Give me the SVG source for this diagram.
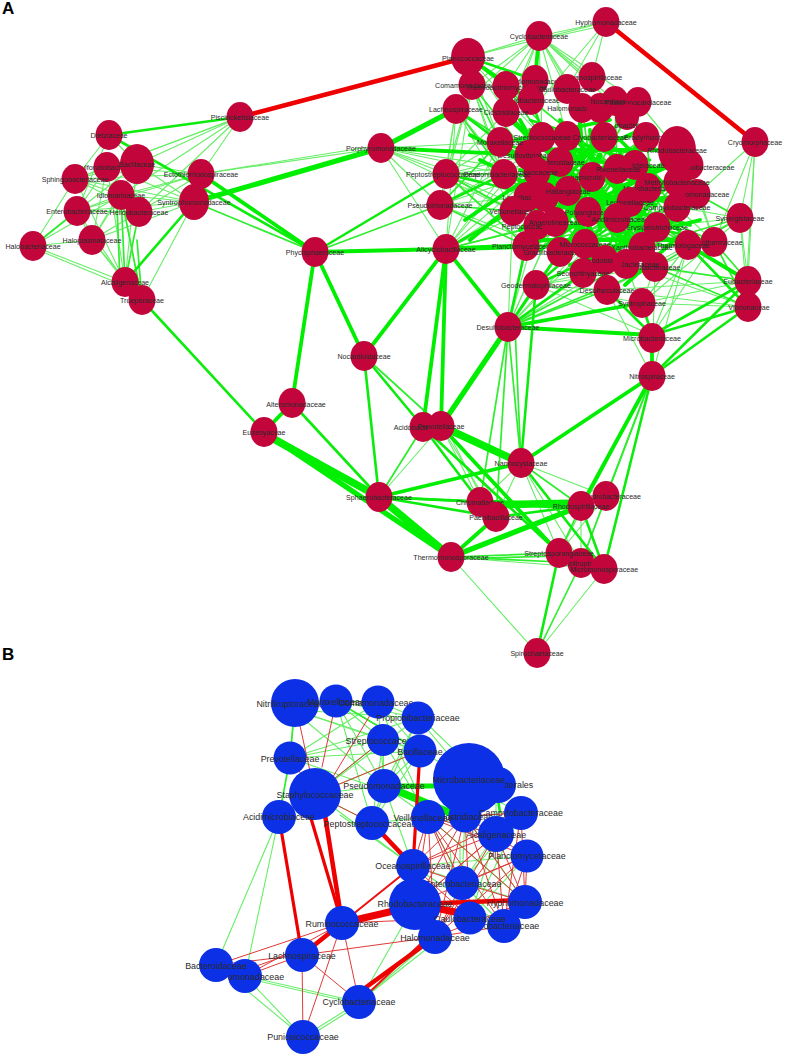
<svg xmlns="http://www.w3.org/2000/svg" width="787" height="1060" viewBox="0 0 787 1060">
<style>
text{font-family:"Liberation Sans",Arial,sans-serif;fill:#2a2a2a;text-anchor:middle}
.a text{font-size:7.1px}
.b text{font-size:8.9px}
.a ellipse{fill:#c2063c}
.b circle{fill:#0b30e6}
.t{font-size:17px;font-weight:bold;fill:#000;text-anchor:start}
#connectors path{fill:none;stroke-linecap:round}
.c1 path{stroke:#66ee66;stroke-width:1.1}
.c2 path{stroke:#2eee2e;stroke-width:1.7}
.c3 path{stroke:#0cec0c;stroke-width:2.6}
.c4 path{stroke:#00ee00;stroke-width:3.8}
.c5 path{stroke:#00ee00;stroke-width:5.2}
.c6 path{stroke:#00ee00;stroke-width:7.5}
.r1 path{stroke:#e03a3a;stroke-width:1}
.r2 path{stroke:#ee1010;stroke-width:2}
.r3 path{stroke:#ee0000;stroke-width:3.2}
.r4 path{stroke:#ee0000;stroke-width:4.6}
.r5 path{stroke:#ee0000;stroke-width:7}
</style>
<rect width="787" height="1060" fill="#fff"/>
<text class="t" x="2" y="14">A</text>
<text class="t" x="2" y="660">B</text>
<g id="connectors">
<g class="c1">
<path d="M606 22L539 36"/><path d="M606 25L539 40"/><path d="M606 22L468 57"/><path d="M606 22L567 89"/><path d="M606 22L592 77"/><path d="M606 22L540 100"/>
<path d="M539 36L468 57"/><path d="M539 36L472 85"/><path d="M539 36L506 86"/><path d="M539 36L531 100"/><path d="M539 36L567 89"/><path d="M539 36L592 77"/><path d="M539 36L615 101"/><path d="M539 36L638 102"/><path d="M539 36L582 108"/><path d="M539 36L604 137"/><path d="M539 36L500 142"/><path d="M539 36L542 137"/><path d="M539 36L567 136"/><path d="M539 36L627 117"/><path d="M539 36L456 109"/><path d="M539 36L506 112"/>
<path d="M468 57L506 112"/><path d="M468 57L531 100"/><path d="M468 57L500 142"/><path d="M468 57L567 89"/><path d="M468 57L542 137"/>
<path d="M755 142L740 218"/><path d="M755 142L748 281"/><path d="M755 142L697 194"/><path d="M755 142L745 307"/><path d="M755 142L714 242"/>
<path d="M740 218L688 245"/><path d="M740 218L677 207"/><path d="M740 218L714 242"/><path d="M740 218L748 281"/><path d="M740 218L748 307"/><path d="M740 218L657 227"/>
<path d="M748 281L642 303"/><path d="M748 307L642 303"/><path d="M748 307L607 290"/><path d="M748 281L607 290"/><path d="M748 281L626 264"/><path d="M748 307L626 264"/>
<path d="M240 117L137 164"/><path d="M240 117L107 167"/><path d="M240 117L75 179"/><path d="M240 117L121 195"/><path d="M240 117L139 212"/><path d="M240 117L201 174"/>
<path d="M201 174L381 148"/><path d="M201 174L381 145"/><path d="M109 135L75 179"/><path d="M109 135L77 211"/><path d="M109 135L137 164"/>
<path d="M75 179L137 164"/><path d="M75 179L121 195"/><path d="M75 179L139 212"/><path d="M75 179L194 202"/><path d="M75 179L201 174"/><path d="M75 179L33 246"/><path d="M75 179L125 282"/><path d="M75 179L107 167"/>
<path d="M77 211L137 164"/><path d="M77 211L107 167"/><path d="M77 211L121 195"/><path d="M77 211L139 212"/><path d="M77 211L194 202"/><path d="M77 211L201 174"/><path d="M77 211L33 246"/><path d="M77 211L125 282"/><path d="M77 211L92 240"/>
<path d="M92 240L137 164"/><path d="M92 240L139 212"/><path d="M92 240L121 195"/><path d="M92 240L194 202"/><path d="M92 240L33 246"/><path d="M92 240L125 282"/><path d="M92 240L142 300"/><path d="M92 240L107 167"/>
<path d="M107 167L194 202"/><path d="M107 167L201 174"/><path d="M107 167L139 212"/><path d="M107 167L125 282"/><path d="M137 164L194 202"/><path d="M137 164L201 174"/><path d="M137 164L125 282"/><path d="M121 195L194 202"/><path d="M121 195L201 174"/><path d="M139 212L194 202"/><path d="M139 212L201 174"/><path d="M121 195L142 300"/>
<path d="M33 246L125 282"/><path d="M33 248L125 286"/><path d="M33 246L121 195"/><path d="M142 300L194 202"/>
<path d="M423 427L379 497"/><path d="M441 426L379 497"/><path d="M441 426L480 502"/><path d="M441 426L496 517"/><path d="M445 426L484 502"/>
<path d="M521 463L480 502"/><path d="M521 463L496 517"/><path d="M521 463L559 553"/><path d="M521 463L581 563"/><path d="M521 463L606 496"/>
<path d="M451 557L604 569"/><path d="M451 557L537 653"/><path d="M604 569L537 653"/><path d="M581 506L581 563"/><path d="M581 506L559 553"/><path d="M606 496L559 553"/><path d="M606 496L581 563"/><path d="M652 376L606 496"/><path d="M652 376L559 553"/><path d="M652 376L581 506"/>
<path d="M446 174L500 142"/><path d="M446 174L528 155"/><path d="M446 174L513 211"/><path d="M446 174L537 225"/><path d="M446 174L555 222"/><path d="M446 174L526 246"/><path d="M446 174L506 112"/><path d="M446 174L560 162"/>
<path d="M440 205L504 174"/><path d="M440 205L527 197"/><path d="M440 205L513 211"/><path d="M440 205L537 172"/><path d="M440 205L526 246"/><path d="M440 205L560 252"/><path d="M440 205L500 142"/><path d="M440 205L528 155"/>
<path d="M456 109L500 142"/><path d="M456 109L504 174"/><path d="M456 109L527 197"/><path d="M456 109L513 211"/><path d="M456 109L446 249"/><path d="M456 109L440 205"/><path d="M456 109L537 172"/><path d="M456 109L446 174"/><path d="M472 85L446 249"/><path d="M472 85L504 174"/><path d="M472 85L440 205"/><path d="M472 85L513 211"/><path d="M472 85L446 174"/>
<path d="M446 249L504 174"/><path d="M446 249L527 197"/><path d="M446 249L537 172"/><path d="M446 249L500 142"/><path d="M446 249L513 211"/><path d="M446 249L568 191"/><path d="M446 249L528 155"/><path d="M446 249L588 212"/><path d="M446 249L555 222"/>
<path d="M381 148L504 174"/><path d="M381 148L513 211"/><path d="M381 148L500 142"/><path d="M381 148L446 174"/><path d="M381 148L440 205"/><path d="M381 148L446 249"/><path d="M381 148L527 197"/><path d="M381 148L537 172"/>
<path d="M508 327L513 211"/><path d="M508 327L537 225"/><path d="M508 327L555 222"/><path d="M508 327L588 212"/><path d="M508 327L568 191"/><path d="M508 327L617 218"/><path d="M508 327L605 260"/><path d="M508 327L585 244"/><path d="M508 327L642 247"/>
<path d="M536 285L642 303"/><path d="M536 285L607 290"/><path d="M536 285L652 335"/><path d="M536 285L655 267"/><path d="M536 285L626 264"/><path d="M536 285L585 244"/><path d="M536 285L560 252"/>
<path d="M652 376L655 267"/><path d="M652 376L688 245"/><path d="M652 376L607 290"/><path d="M652 335L688 245"/><path d="M652 335L626 264"/><path d="M652 335L607 290"/><path d="M642 303L688 245"/><path d="M642 303L655 267"/>
<path d="M714 242L677 207"/><path d="M714 242L697 194"/><path d="M714 242L655 267"/><path d="M714 242L652 335"/><path d="M714 242L642 303"/><path d="M688 245L607 290"/><path d="M688 245L642 303"/><path d="M697 194L740 218"/>
<path d="M646 137L677 150"/><path d="M638 102L677 150"/><path d="M638 102L690 165"/><path d="M627 117L690 165"/><path d="M646 137L697 194"/><path d="M690 165L714 242"/>
</g>
<g class="c2">
<path d="M33 246L77 211"/><path d="M125 282L121 195"/><path d="M120 282L117 205"/><path d="M125 282L139 212"/><path d="M142 300L121 195"/><path d="M142 300L137 240"/>
<path d="M194 202L315 252"/><path d="M521 463L515 327"/><path d="M521 463L508 327"/><path d="M508 327L480 502"/><path d="M508 327L496 517"/>
<path d="M379 497L423 427"/><path d="M521 463L581 506"/><path d="M581 506L559 553"/><path d="M451 557L559 553"/><path d="M451 557L581 563"/><path d="M451 559L559 556"/><path d="M606 496L652 376"/><path d="M581 563L652 376"/><path d="M537 653L581 563"/>
<path d="M315 252L440 205"/><path d="M364 356L441 426"/><path d="M500 142L560 162"/><path d="M500 142L604 137"/><path d="M542 137L646 137"/><path d="M567 136L617 169"/><path d="M531 100L617 169"/><path d="M506 112L568 191"/><path d="M506 112L588 212"/><path d="M506 86L560 162"/><path d="M506 86L592 177"/>
<path d="M582 108L592 177"/><path d="M615 101L617 169"/><path d="M627 117L592 177"/><path d="M638 102L635 165"/><path d="M604 137L677 207"/><path d="M646 137L657 227"/><path d="M646 137L568 191"/><path d="M604 137L555 222"/>
<path d="M504 174L617 218"/><path d="M504 174L642 247"/><path d="M504 174L585 244"/><path d="M537 172L657 227"/><path d="M513 211L677 182"/><path d="M513 211L642 247"/><path d="M513 211L605 260"/><path d="M526 246L617 169"/><path d="M526 246L648 188"/><path d="M526 246L677 207"/><path d="M526 246L642 247"/>
<path d="M560 252L677 182"/><path d="M560 252L657 227"/><path d="M560 252L630 202"/><path d="M585 244L677 207"/><path d="M585 244L697 194"/><path d="M605 260L677 182"/><path d="M605 260L697 194"/><path d="M626 264L648 188"/><path d="M655 267L617 169"/><path d="M642 247L592 177"/><path d="M642 247L568 191"/>
<path d="M688 245L630 202"/><path d="M688 245L648 188"/><path d="M688 245L617 218"/><path d="M740 218L697 194"/><path d="M740 218L655 267"/><path d="M740 218L642 247"/><path d="M714 242L630 202"/><path d="M748 281L657 227"/><path d="M748 281L714 242"/><path d="M748 307L714 242"/><path d="M748 281L655 267"/><path d="M748 307L655 267"/><path d="M748 307L688 245"/>
<path d="M508 327L536 285"/><path d="M508 327L526 246"/><path d="M508 327L560 252"/><path d="M508 327L583 273"/><path d="M508 327L607 290"/><path d="M508 327L626 264"/><path d="M508 327L655 267"/>
<path d="M446 174L504 174"/><path d="M446 174L513 211"/><path d="M440 205L513 211"/><path d="M440 205L526 246"/><path d="M446 249L513 211"/><path d="M456 109L504 174"/><path d="M456 109L528 155"/><path d="M440 205L500 142"/><path d="M472 85L500 142"/><path d="M472 85L528 155"/><path d="M446 174L526 246"/><path d="M446 249L555 222"/>
</g>
<g class="c3">
<path d="M109 135L315 252"/><path d="M315 252L446 174"/><path d="M364 356L379 497"/><path d="M364 356L423 427"/><path d="M292 403L379 497"/><path d="M264 432L142 300"/><path d="M423 427L480 502"/><path d="M423 427L559 553"/><path d="M379 497L480 502"/><path d="M379 497L581 506"/><path d="M379 497L496 517"/>
<path d="M521 463L604 569"/><path d="M581 506L604 569"/><path d="M581 506L652 376"/><path d="M604 569L652 376"/><path d="M537 653L559 553"/><path d="M496 517L581 506"/><path d="M536 285L521 463"/>
<path d="M125 282L194 202"/><path d="M109 135L240 117"/><path d="M456 109L500 142"/><path d="M468 57L506 86"/>
<path d="M500 142L605 260"/><path d="M528 155L642 247"/><path d="M542 137L655 267"/><path d="M567 136L626 264"/><path d="M604 137L526 246"/><path d="M627 117L513 211"/><path d="M646 137L536 285"/><path d="M677 150L560 252"/><path d="M677 182L585 244"/><path d="M500 142L677 207"/><path d="M504 174L677 182"/><path d="M513 211L697 194"/><path d="M526 246L688 245"/><path d="M527 197L688 245"/><path d="M537 172L655 267"/><path d="M560 162L607 290"/><path d="M592 177L583 273"/><path d="M617 169L560 252"/><path d="M635 165L605 260"/><path d="M648 188L536 285"/><path d="M657 227L536 285"/><path d="M677 207L605 260"/><path d="M568 191L642 247"/><path d="M588 212L714 242"/><path d="M555 222L677 182"/><path d="M530 120L650 160"/><path d="M506 112L642 247"/><path d="M531 100L585 244"/><path d="M582 108L568 191"/><path d="M604 137L642 247"/><path d="M567 136L655 267"/>
<path d="M508 327L560 252"/><path d="M508 327L526 246"/><path d="M748 281L652 335"/><path d="M748 307L652 335"/><path d="M652 376L748 281"/><path d="M652 376L748 307"/><path d="M642 303L652 335"/><path d="M607 290L652 335"/><path d="M536 285L508 327"/><path d="M748 307L688 245"/><path d="M508 327L583 273"/><path d="M480 502L581 509"/>
<path d="M440 205L504 174"/><path d="M446 249L513 211"/><path d="M446 174L513 190"/><path d="M468 57L535 80"/>
</g>
<g class="c4">
<path d="M381 148L528 155"/><path d="M315 252L292 403"/><path d="M315 252L364 356"/><path d="M364 356L446 249"/><path d="M292 403L264 432"/><path d="M423 427L446 249"/><path d="M441 426L446 249"/><path d="M521 463L652 376"/><path d="M451 557L496 517"/><path d="M581 506L652 376"/><path d="M559 553L441 426"/>
<path d="M379 497L521 463"/><path d="M201 174L315 252"/><path d="M315 252L446 249"/><path d="M539 36L535 80"/><path d="M468 57L530 100"/><path d="M508 327L652 335"/><path d="M508 327L446 249"/><path d="M652 335L652 376"/><path d="M508 327L642 303"/><path d="M748 281L688 245"/>
<path d="M560 162L605 260"/><path d="M545 130L630 200"/><path d="M555 190L640 150"/><path d="M520 170L610 200"/><path d="M590 130L600 230"/><path d="M620 150L620 240"/><path d="M560 120L650 230"/><path d="M530 230L640 180"/><path d="M570 180L680 230"/><path d="M540 175L660 240"/><path d="M600 200L690 180"/><path d="M560 230L650 200"/><path d="M640 235L700 220"/><path d="M515 140L610 120"/><path d="M530 130L620 170"/><path d="M585 145L660 170"/><path d="M600 180L655 130"/><path d="M655 215L690 225"/><path d="M510 120L580 180"/>
<path d="M510 150L640 210"/><path d="M510 190L640 130"/><path d="M520 230L600 140"/><path d="M540 250L650 170"/><path d="M560 130L560 250"/><path d="M580 120L590 260"/><path d="M640 140L640 260"/><path d="M660 190L600 270"/><path d="M520 200L680 200"/><path d="M540 150L660 150"/><path d="M530 240L690 240"/><path d="M570 265L670 225"/><path d="M520 120L600 260"/><path d="M600 120L680 200"/><path d="M610 270L700 200"/><path d="M625 285L680 235"/><path d="M480 160L540 190"/><path d="M470 135L520 160"/><path d="M465 220L540 170"/><path d="M470 240L530 190"/>
</g>
<g class="c5">
<path d="M194 202L381 148"/><path d="M264 432L379 497"/><path d="M264 432L451 557"/><path d="M441 426L508 327"/><path d="M451 557L581 506"/><path d="M480 502L581 506"/><path d="M381 148L456 109"/><path d="M446 249L526 246"/><path d="M530 165L620 235"/><path d="M600 155L560 235"/><path d="M615 190L670 165"/><path d="M555 150L655 205"/>
</g>
<g class="c6">
<path d="M379 497L451 557"/><path d="M441 426L521 463"/><path d="M268 436L379 497"/><path d="M480 505L581 503"/>
</g>
<g class="r4">
<path d="M240 117L468 57"/>
<path d="M606 22L755 142"/>
</g>
<g class="c1">
<path d="M295 703L336 701"/><path d="M336 701L378 702"/><path d="M295 710L418 718"/><path d="M295 710L383 740"/><path d="M295 710L420 751"/><path d="M295 712L384 786"/><path d="M336 701L418 718"/><path d="M336 701L383 740"/><path d="M336 701L420 751"/><path d="M336 701L384 786"/><path d="M336 701L372 823"/><path d="M378 702L418 718"/><path d="M378 702L420 751"/><path d="M378 702L290 758"/><path d="M378 702L384 786"/><path d="M378 702L428 817"/><path d="M418 718L290 758"/><path d="M418 718L315 794"/><path d="M418 718L384 786"/><path d="M418 718L469 779"/><path d="M418 718L372 823"/><path d="M425 722L475 770"/><path d="M383 740L290 758"/><path d="M383 740L420 751"/><path d="M383 740L384 786"/><path d="M383 740L428 817"/><path d="M383 740L372 823"/><path d="M420 751L290 758"/><path d="M420 751L384 786"/><path d="M420 751L372 823"/><path d="M420 751L469 779"/><path d="M290 758L383 790"/><path d="M290 758L295 703"/><path d="M315 794L384 786"/><path d="M315 794L372 823"/><path d="M315 794L413 866"/><path d="M315 794L420 751"/><path d="M384 786L372 823"/><path d="M384 786L428 817"/><path d="M384 786L413 866"/><path d="M315 794L383 740"/><path d="M372 823L428 817"/><path d="M372 823L413 866"/><path d="M340 815L413 866"/><path d="M279 817L216 965"/><path d="M279 817L245 976"/><path d="M245 976L359 1002"/><path d="M245 978L359 1004"/><path d="M245 976L303 1037"/><path d="M216 965L303 1037"/><path d="M359 1002L303 1037"/><path d="M359 1005L303 1040"/><path d="M359 1002L435 937"/><path d="M359 1002L438 940"/><path d="M359 1002L415 904"/><path d="M428 817L462 883"/><path d="M428 817L496 834"/><path d="M465 816L462 883"/><path d="M465 816L525 902"/><path d="M496 834L462 883"/><path d="M496 834L470 918"/><path d="M521 813L462 883"/><path d="M521 813L470 918"/><path d="M527 856L413 866"/><path d="M527 856L470 918"/><path d="M462 883L504 926"/><path d="M450 850L455 900"/><path d="M460 840L460 890"/><path d="M413 866L504 926"/><path d="M413 866L525 902"/><path d="M428 817L525 902"/><path d="M496 800L496 834"/><path d="M521 813L496 800"/>
</g>
<g class="c2">
<path d="M290 758L279 817"/><path d="M295 703L290 758"/><path d="M336 701L420 751"/>
</g>
<g class="c5"><path d="M384 786L469 786"/></g>
<g class="c6"><path d="M400 792L448 812"/></g>
<g class="c3"><path d="M498 800L500 812"/></g>
<g class="r1">
<path d="M295 703L315 794"/><path d="M336 701L322 767"/><path d="M378 702L325 790"/><path d="M383 740L315 794"/><path d="M420 751L315 794"/><path d="M290 758L315 794"/><path d="M315 794L372 823"/>
<path d="M302 955L216 965"/><path d="M342 923L216 965"/><path d="M342 923L245 976"/><path d="M302 955L245 976"/><path d="M302 950L245 970"/><path d="M302 955L435 937"/><path d="M342 923L415 920"/><path d="M302 955L359 1002"/><path d="M342 923L359 1002"/><path d="M302 955L303 1037"/><path d="M342 923L303 1037"/>
<path d="M428 817L462 883"/><path d="M428 817L527 856"/><path d="M428 817L525 902"/><path d="M428 817L504 926"/><path d="M428 817L470 918"/><path d="M428 817L435 937"/><path d="M465 816L527 856"/><path d="M465 816L504 926"/><path d="M465 816L470 918"/><path d="M465 816L435 937"/><path d="M465 816L413 866"/><path d="M465 816L415 904"/><path d="M496 834L413 866"/><path d="M496 834L525 902"/><path d="M496 834L504 926"/><path d="M496 834L415 904"/><path d="M496 834L435 937"/><path d="M521 813L413 866"/><path d="M521 813L415 904"/><path d="M521 813L525 902"/><path d="M521 813L504 926"/><path d="M521 813L435 937"/><path d="M527 856L415 904"/><path d="M527 856L435 937"/><path d="M527 856L504 926"/><path d="M527 856L462 883"/><path d="M527 856L525 902"/><path d="M462 883L525 902"/><path d="M462 883L470 918"/><path d="M462 883L435 937"/><path d="M413 866L462 883"/><path d="M413 866L470 918"/><path d="M525 902L435 937"/><path d="M504 926L435 937"/><path d="M428 817L415 904"/><path d="M428 817L496 834"/><path d="M428 817L413 866"/><path d="M465 816L521 813"/><path d="M465 816L525 902"/>
</g>
<g class="r3">
<path d="M279 817L302 955"/><path d="M310 815L342 923"/><path d="M420 751L413 866"/>
</g>
<g class="r2">
<path d="M342 923L413 866"/><path d="M359 1002L430 935"/>
</g>
<g class="r4">
<path d="M325 815L342 923"/><path d="M372 823L413 866"/><path d="M302 955L342 923"/><path d="M354 996L435 937"/><path d="M415 904L525 900"/>
</g>
<g class="r5"><path d="M342 923L415 906"/><path d="M415 904L470 915"/></g>
</g>
<g id="nodes">
<g class="a">
<g id="a-comamonadaceae"><ellipse cx="472" cy="85" rx="13.5" ry="15"/><text x="465" y="88">Comamonadaceae</text></g>
<g id="a-rhodomonadaceae"><ellipse cx="535" cy="80" rx="13.5" ry="15"/><text x="535" y="84">Rhodomonadaceae</text></g>
<g id="a-thermoactinomycetaceae"><ellipse cx="506" cy="86" rx="13.5" ry="15"/><text x="506" y="90">Thermoactinomycetaceae</text></g>
<g id="a-oceanospirillaceae"><ellipse cx="592" cy="77" rx="13.5" ry="15"/><text x="592" y="80">Oceanospirillaceae</text></g>
<g id="a-flavobacteriaceae"><ellipse cx="531" cy="100" rx="13.5" ry="15"/><text x="531" y="103">Flavobacteriaceae</text></g>
<g id="a-clostridiaceae"><ellipse cx="506" cy="112" rx="13.5" ry="15"/><text x="506" y="115">Clostridiaceae</text></g>
<g id="a-caulobacteraceae"><ellipse cx="567" cy="89" rx="13.5" ry="15"/><text x="567" y="92">Caulobacteraceae</text></g>
<g id="a-planococcaceae"><ellipse cx="468" cy="57" rx="17" ry="19"/><text x="468" y="61">Planococcaceae</text></g>
<g id="a-cyclobacteriaceae"><ellipse cx="539" cy="36" rx="13.5" ry="15"/><text x="539" y="39">Cyclobacteriaceae</text></g>
<g id="a-hyphomonadaceae"><ellipse cx="606" cy="22" rx="13.5" ry="15"/><text x="606" y="25">Hyphomonadaceae</text></g>
<g id="a-lachnospiraceae"><ellipse cx="456" cy="109" rx="13.5" ry="15"/><text x="456" y="112">Lachnospiraceae</text></g>
<g id="a-halomonadaceae"><ellipse cx="582" cy="108" rx="13.5" ry="15"/><text x="575" y="111">Halomonadaceae</text></g>
<g id="a-node-1"><ellipse cx="600" cy="108" rx="13.5" ry="15"/></g>
<g id="a-nocardiaceae"><ellipse cx="615" cy="101" rx="13.5" ry="15"/><text x="612" y="104">Nocardiaceae</text></g>
<g id="a-pseudonocardiaceae"><ellipse cx="638" cy="102" rx="13.5" ry="15"/><text x="638" y="105">Pseudonocardiaceae</text></g>
<g id="a-obacteri"><ellipse cx="627" cy="117" rx="12" ry="13"/><text x="627" y="128">obacteri</text></g>
<g id="a-bradyrhizobia"><ellipse cx="646" cy="137" rx="13.5" ry="15"/><text x="646" y="140">Bradyrhizobia</text></g>
<g id="a-node-2"><ellipse cx="567" cy="136" rx="13.5" ry="15"/></g>
<g id="a-streptococcaceae"><ellipse cx="542" cy="137" rx="13.5" ry="15"/><text x="542" y="140">Streptococcaceae</text></g>
<g id="a-cryobacteriaceae"><ellipse cx="604" cy="137" rx="13.5" ry="15"/><text x="600" y="140">Cryobacteriaceae</text></g>
<g id="a-desulfovibrionaceae"><ellipse cx="528" cy="155" rx="13.5" ry="15"/><text x="530" y="158">Desulfovibrionaceae</text></g>
<g id="a-moraxellaceae"><ellipse cx="500" cy="142" rx="13.5" ry="15"/><text x="500" y="145">Moraxellaceae</text></g>
<g id="a-bacteroidaceae"><ellipse cx="560" cy="162" rx="13.5" ry="15"/><text x="560" y="165">Bacteroidaceae</text></g>
<g id="a-actinobacteraceae"><ellipse cx="690" cy="165" rx="13.5" ry="15"/><text x="705" y="170">Actinobacteraceae</text></g>
<g id="a-rhodobacteraceae"><ellipse cx="677" cy="150" rx="19" ry="24"/><text x="677" y="153">Rhodobacteraceae</text></g>
<g id="a-enterococcaceae"><ellipse cx="537" cy="172" rx="13.5" ry="15"/><text x="530" y="175">Enterococcaceae</text></g>
<g id="a-peptostreptococcaceae"><ellipse cx="446" cy="174" rx="13.5" ry="15"/><text x="443" y="177">Peptostreptococcaceae</text></g>
<g id="a-propionibacteriaceae"><ellipse cx="504" cy="174" rx="13.5" ry="15"/><text x="497" y="177">Propionibacteriaceae</text></g>
<g id="a-hamicrobi"><ellipse cx="592" cy="177" rx="13.5" ry="15"/><text x="586" y="180">hamicrobi</text></g>
<g id="a-icteraceae"><ellipse cx="635" cy="165" rx="13.5" ry="15"/><text x="648" y="168">icteraceae</text></g>
<g id="a-rikenellaceae"><ellipse cx="617" cy="169" rx="13.5" ry="15"/><text x="618" y="172">Rikenellaceae</text></g>
<g id="a-mycobacteriaceae"><ellipse cx="648" cy="188" rx="13.5" ry="15"/><text x="646" y="191">Mycobacteriac</text></g>
<g id="a-sphingomonadaceae"><ellipse cx="697" cy="194" rx="13.5" ry="15"/><text x="707" y="197">omonadaceae</text></g>
<g id="a-methylobacteriaceae"><ellipse cx="677" cy="182" rx="13.5" ry="15"/><text x="677" y="185">Methylobacteriaceae</text></g>
<g id="a-lactobacillaceae"><ellipse cx="527" cy="197" rx="13.5" ry="15"/><text x="529" y="200">Lactobacillaceae</text></g>
<g id="a-node-3"><ellipse cx="545" cy="197" rx="13.5" ry="15"/></g>
<g id="a-haliangiaceae"><ellipse cx="568" cy="191" rx="13.5" ry="15"/><text x="568" y="194">Haliangiaceae</text></g>
<g id="a-legionellaceae"><ellipse cx="630" cy="202" rx="13.5" ry="15"/><text x="630" y="205">Legionellaceae</text></g>
<g id="a-campylobacteraceae"><ellipse cx="677" cy="207" rx="13.5" ry="15"/><text x="677" y="210">Campylobacteraceae</text></g>
<g id="a-veillonellaceae"><ellipse cx="513" cy="211" rx="13.5" ry="15"/><text x="513" y="214">Veillonellaceae</text></g>
<g id="a-peptococcaceae"><ellipse cx="537" cy="225" rx="13.5" ry="15"/><text x="528" y="229">Peptococcaceae</text></g>
<g id="a-anaerolineaceae"><ellipse cx="555" cy="222" rx="13.5" ry="15"/><text x="555" y="225">Anaerolineaceae</text></g>
<g id="a-polyangiaceae"><ellipse cx="588" cy="212" rx="13.5" ry="15"/><text x="588" y="215">Polyangiaceae</text></g>
<g id="a-acidimicrobiaceae"><ellipse cx="617" cy="218" rx="13.5" ry="15"/><text x="620" y="222">Acidimicrobiaceae</text></g>
<g id="a-erysipelotrichaceae"><ellipse cx="657" cy="227" rx="13.5" ry="15"/><text x="657" y="230">Erysipelotrichaceae</text></g>
<g id="a-synergistaceae"><ellipse cx="740" cy="218" rx="13.5" ry="15"/><text x="740" y="221">Synergistaceae</text></g>
<g id="a-planctomycetaceae"><ellipse cx="526" cy="246" rx="13.5" ry="15"/><text x="523" y="249">Planctomycetaceae</text></g>
<g id="a-gracilibacteraceae"><ellipse cx="560" cy="252" rx="13.5" ry="15"/><text x="553" y="255">Gracilibacteraceae</text></g>
<g id="a-micrococcaceae"><ellipse cx="585" cy="244" rx="13.5" ry="15"/><text x="585" y="247">Micrococcaceae</text></g>
<g id="a-othermaceae"><ellipse cx="714" cy="242" rx="13.5" ry="15"/><text x="722" y="245">othermaceae</text></g>
<g id="a-xanthobacteraceae"><ellipse cx="642" cy="247" rx="13.5" ry="15"/><text x="642" y="250">Xanthobacteraceae</text></g>
<g id="a-thermotogaceae"><ellipse cx="688" cy="245" rx="13.5" ry="15"/><text x="683" y="248">Thermotogaceae</text></g>
<g id="a-solibacteraceae"><ellipse cx="655" cy="267" rx="13.5" ry="15"/><text x="655" y="270">Solibacteraceae</text></g>
<g id="a-rhodobiaceae"><ellipse cx="605" cy="260" rx="13.5" ry="15"/><text x="605" y="263">Rhodobiaceae</text></g>
<g id="a-jacteraceae"><ellipse cx="626" cy="264" rx="13.5" ry="15"/><text x="640" y="267">Jacteraceae</text></g>
<g id="a-seonchthyaceae"><ellipse cx="583" cy="273" rx="13.5" ry="15"/><text x="583" y="276">Seonchthyaceae</text></g>
<g id="a-desulfarculaceae"><ellipse cx="607" cy="290" rx="13.5" ry="15"/><text x="607" y="293">Desulfarculaceae</text></g>
<g id="a-geodermatophilaceae"><ellipse cx="536" cy="285" rx="13.5" ry="15"/><text x="536" y="288">Geodermatophilaceae</text></g>
<g id="a-syntrophaceae"><ellipse cx="642" cy="303" rx="13.5" ry="15"/><text x="642" y="306">Syntrophaceae</text></g>
<g id="a-microbacteriaceae"><ellipse cx="652" cy="338" rx="13.5" ry="15"/><text x="652" y="341">Microbacteriaceae</text></g>
<g id="a-desulfobacteraceae"><ellipse cx="508" cy="327" rx="13.5" ry="15"/><text x="508" y="330">Desulfobacteraceae</text></g>
<g id="a-nitrospiraceae"><ellipse cx="652" cy="376" rx="13.5" ry="15"/><text x="652" y="379">Nitrospiraceae</text></g>
<g id="a-pseudomonadaceae"><ellipse cx="440" cy="205" rx="13.5" ry="15"/><text x="440" y="208">Pseudomonadaceae</text></g>
<g id="a-alicyclobacillaceae"><ellipse cx="446" cy="249" rx="13.5" ry="15"/><text x="446" y="252">Alicyclobacillaceae</text></g>
<g id="a-vibrionaceae"><ellipse cx="748" cy="307" rx="13.5" ry="15"/><text x="749" y="310">Vibrionaceae</text></g>
<g id="a-eubacteriaceae"><ellipse cx="748" cy="281" rx="13.5" ry="15"/><text x="748" y="284">Eubacteriaceae</text></g>
<g id="a-cryomorphaceae"><ellipse cx="755" cy="142" rx="13.5" ry="15"/><text x="755" y="145">Cryomorphaceae</text></g>
<g id="a-porphyromonadaceae"><ellipse cx="381" cy="148" rx="13.5" ry="15"/><text x="381" y="151">Porphyromonadaceae</text></g>
<g id="a-piscirickettsiaceae"><ellipse cx="240" cy="117" rx="13.5" ry="15"/><text x="240" y="120">Piscirickettsiaceae</text></g>
<g id="a-phycisphaeraceae"><ellipse cx="315" cy="252" rx="13.5" ry="15"/><text x="315" y="255">Phycisphaeraceae</text></g>
<g id="a-ectothiorhodospiraceae"><ellipse cx="201" cy="174" rx="13.5" ry="15"/><text x="201" y="177">Ectothiorhodospiraceae</text></g>
<g id="a-syntrophomonadaceae"><ellipse cx="194" cy="202" rx="15" ry="18"/><text x="194" y="205">Syntrophomonadaceae</text></g>
<g id="a-dietziaceae"><ellipse cx="109" cy="135" rx="13.5" ry="15"/><text x="109" y="138">Dietziaceae</text></g>
<g id="a-desulfonatobacteraceae"><ellipse cx="107" cy="167" rx="13.5" ry="15"/><text x="107" y="170">Desulfonatobacteraceae</text></g>
<g id="a-bacillaceae"><ellipse cx="137" cy="164" rx="17" ry="20"/><text x="137" y="167">Bacillaceae</text></g>
<g id="a-sphingobacteriaceae"><ellipse cx="75" cy="179" rx="13.5" ry="15"/><text x="75" y="182">Sphingobacteriaceae</text></g>
<g id="a-idiomarinaceae"><ellipse cx="121" cy="195" rx="13.5" ry="15"/><text x="121" y="198">Idiomarinaceae</text></g>
<g id="a-helicobacteraceae"><ellipse cx="139" cy="212" rx="13.5" ry="15"/><text x="139" y="215">Helicobacteraceae</text></g>
<g id="a-enterobacteriaceae"><ellipse cx="77" cy="211" rx="13.5" ry="15"/><text x="77" y="214">Enterobacteriaceae</text></g>
<g id="a-haloplasmataceae"><ellipse cx="92" cy="240" rx="13.5" ry="15"/><text x="92" y="243">Haloplasmataceae</text></g>
<g id="a-halobacteriaceae"><ellipse cx="33" cy="246" rx="13.5" ry="15"/><text x="33" y="249">Halobacteriaceae</text></g>
<g id="a-alcaligenaceae"><ellipse cx="125" cy="282" rx="13.5" ry="15"/><text x="125" y="285">Alcaligenaceae</text></g>
<g id="a-trueperaceae"><ellipse cx="142" cy="300" rx="13.5" ry="15"/><text x="142" y="303">Trueperaceae</text></g>
<g id="a-nocardioidaceae"><ellipse cx="364" cy="356" rx="13.5" ry="15"/><text x="364" y="359">Nocardioidaceae</text></g>
<g id="a-alteromonadaceae"><ellipse cx="292" cy="403" rx="13.5" ry="15"/><text x="296" y="407">Alteromonadaceae</text></g>
<g id="a-euzebyaceae"><ellipse cx="264" cy="432" rx="13.5" ry="15"/><text x="264" y="435">Euzebyaceae</text></g>
<g id="a-acidobacteriaceae"><ellipse cx="423" cy="427" rx="13.5" ry="15"/><text x="423" y="430">Acidobacteriaceae</text></g>
<g id="a-prevotellaceae"><ellipse cx="441" cy="426" rx="13.5" ry="15"/><text x="441" y="429">Prevotellaceae</text></g>
<g id="a-nannocystaceae"><ellipse cx="521" cy="463" rx="13.5" ry="15"/><text x="521" y="466">Nannocystaceae</text></g>
<g id="a-sphaerobacteraceae"><ellipse cx="379" cy="497" rx="13.5" ry="15"/><text x="379" y="500">Sphaerobacteraceae</text></g>
<g id="a-chromatiaceae"><ellipse cx="480" cy="502" rx="13.5" ry="15"/><text x="480" y="505">Chromatiaceae</text></g>
<g id="a-paenibacillaceae"><ellipse cx="496" cy="517" rx="13.5" ry="15"/><text x="496" y="520">Paenibacillaceae</text></g>
<g id="a-hydrobacteraceae"><ellipse cx="606" cy="496" rx="13.5" ry="15"/><text x="612" y="499">Hydrobacteraceae</text></g>
<g id="a-rhodospirillaceae"><ellipse cx="581" cy="506" rx="13.5" ry="15"/><text x="581" y="509">Rhodospirillaceae</text></g>
<g id="a-thermomonosporaceae"><ellipse cx="451" cy="557" rx="13.5" ry="15"/><text x="451" y="560">Thermomonosporaceae</text></g>
<g id="a-nitriliruptora"><ellipse cx="581" cy="563" rx="13.5" ry="15"/><text x="580" y="566">Nitriliruptora</text></g>
<g id="a-streptosporangiaceae"><ellipse cx="559" cy="553" rx="13.5" ry="15"/><text x="559" y="556">Streptosporangiaceae</text></g>
<g id="a-micromonosporaceae"><ellipse cx="604" cy="569" rx="13.5" ry="15"/><text x="604" y="572">Micromonosporaceae</text></g>
<g id="a-spirochaetaceae"><ellipse cx="537" cy="653" rx="13.5" ry="15"/><text x="537" y="656">Spirochaetaceae</text></g>
</g>
<g class="b">
<g id="b-nitriliruptoraceae"><circle cx="295" cy="703" r="24"/><text x="290" y="707">Nitriliruptoraceae</text></g>
<g id="b-moraxellaceae"><circle cx="336" cy="701" r="16.5"/><text x="336" y="705">Moraxellaceae</text></g>
<g id="b-comamonadaceae"><circle cx="378" cy="702" r="16.5"/><text x="376" y="706">Comamonadaceae</text></g>
<g id="b-propionibacteriaceae"><circle cx="418" cy="718" r="16.5"/><text x="418" y="721">Propionibacteriaceae</text></g>
<g id="b-streptococcaceae"><circle cx="383" cy="740" r="16"/><text x="381" y="744">Streptococcaceae</text></g>
<g id="b-bacillaceae"><circle cx="420" cy="751" r="16.5"/><text x="420" y="755">Bacillaceae</text></g>
<g id="b-prevotellaceae"><circle cx="290" cy="758" r="16.5"/><text x="290" y="762">Prevotellaceae</text></g>
<g id="b-solirubrobacterales"><circle cx="498" cy="785" r="18"/><text x="495" y="788">Solirubrobacterales</text></g>
<g id="b-pseudomonadaceae"><circle cx="384" cy="786" r="17"/><text x="384" y="789">Pseudomonadaceae</text></g>
<g id="b-staphylococcaceae"><circle cx="315" cy="794" r="26"/><text x="315" y="798">Staphylococcaceae</text></g>
<g id="b-microbacteriaceae"><circle cx="469" cy="779" r="36"/><text x="469" y="783">Microbacteriaceae</text></g>
<g id="b-acidimicrobiaceae"><circle cx="279" cy="817" r="17"/><text x="279" y="820">Acidimicrobiaceae</text></g>
<g id="b-peptostreptococcaceae"><circle cx="372" cy="823" r="17"/><text x="370" y="827">Peptostreptococcaceae</text></g>
<g id="b-clostridiaceae"><circle cx="465" cy="816" r="16.5"/><text x="465" y="820">Clostridiaceae</text></g>
<g id="b-veillonellaceae"><circle cx="428" cy="817" r="17"/><text x="423" y="821">Veillonellaceae</text></g>
<g id="b-campylobacteraceae"><circle cx="521" cy="813" r="17"/><text x="521" y="816">Campylobacteraceae</text></g>
<g id="b-alcaligenaceae"><circle cx="496" cy="834" r="18"/><text x="496" y="838">Alcaligenaceae</text></g>
<g id="b-planctomycetaceae"><circle cx="527" cy="856" r="16.5"/><text x="527" y="859">Planctomycetaceae</text></g>
<g id="b-oceanospirillaceae"><circle cx="413" cy="866" r="17"/><text x="413" y="869">Oceanospirillaceae</text></g>
<g id="b-enterobacteriaceae"><circle cx="462" cy="883" r="17"/><text x="463" y="887">Enterobacteriaceae</text></g>
<g id="b-flavobacteriaceae"><circle cx="504" cy="926" r="17"/><text x="503" y="929">Flavobacteriaceae</text></g>
<g id="b-hyphomonadaceae"><circle cx="525" cy="902" r="17"/><text x="525" y="906">Hyphomonadaceae</text></g>
<g id="b-rhodobacteraceae"><circle cx="415" cy="904" r="26"/><text x="415" y="907">Rhodobacteraceae</text></g>
<g id="b-caulobacteraceae"><circle cx="470" cy="918" r="16.5"/><text x="470" y="922">Caulobacteraceae</text></g>
<g id="b-halomonadaceae"><circle cx="435" cy="937" r="17"/><text x="435" y="941">Halomonadaceae</text></g>
<g id="b-ruminococcaceae"><circle cx="342" cy="923" r="17"/><text x="342" y="927">Ruminococcaceae</text></g>
<g id="b-lachnospiraceae"><circle cx="302" cy="955" r="17"/><text x="302" y="959">Lachnospiraceae</text></g>
<g id="b-omonadaceae"><circle cx="245" cy="976" r="17"/><text x="256" y="980">omonadaceae</text></g>
<g id="b-bacteroidaceae"><circle cx="216" cy="965" r="17"/><text x="216" y="969">Bacteroidaceae</text></g>
<g id="b-cyclobacteriaceae"><circle cx="359" cy="1002" r="17"/><text x="359" y="1005">Cyclobacteriaceae</text></g>
<g id="b-puniceicoccaceae"><circle cx="303" cy="1037" r="17"/><text x="303" y="1040">Puniceicoccaceae</text></g>
</g>
</g>
</svg>
